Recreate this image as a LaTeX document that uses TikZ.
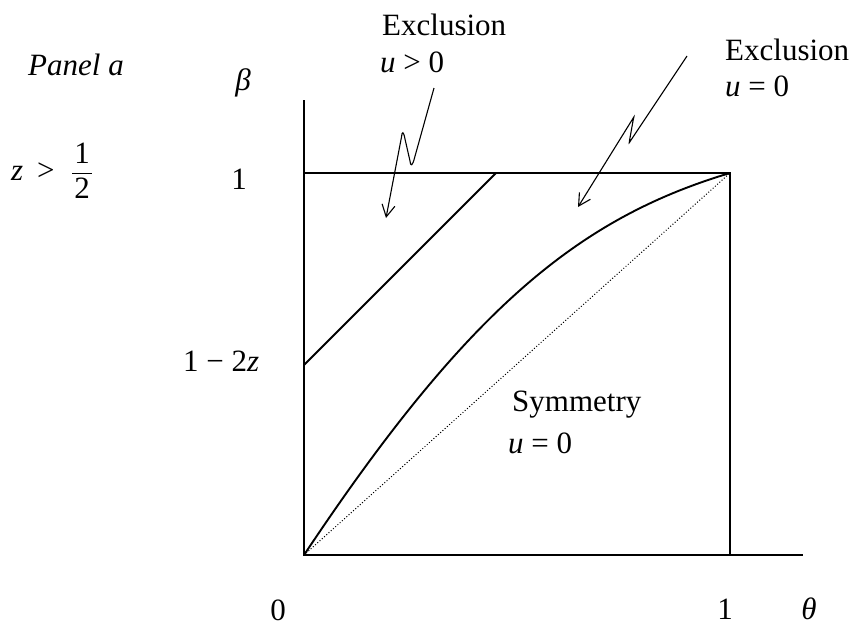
\documentclass[tikz,border=0pt]{standalone}
\usepackage{fontspec}
\setmainfont{Liberation Serif}
\usetikzlibrary{arrows.meta}
\tikzset{
  lbl/.style={inner sep=0pt, anchor=base west, font=\fontsize{31}{37}\selectfont},
  lblc/.style={inner sep=0pt, anchor=base, font=\fontsize{31}{37}\selectfont},
  axisline/.style={line width=1.6pt},
  curveline/.style={line width=1.9pt},
  squiggle/.style={line width=1.1pt, -{Straight Barb[length=12pt,width=13pt,line width=1.1pt]}},
}
\begin{document}
\begin{tikzpicture}[x=1pt,y=-1pt]
\useasboundingbox (0,0) rectangle (857,627);
% coordinates
\coordinate (O) at (304,555);
\coordinate (Ytop) at (304,100);
\coordinate (Xend) at (803,555);
\coordinate (TL) at (304,173);
\coordinate (TR) at (730,173);
\coordinate (BR) at (730,555);
\coordinate (P1) at (304,365);
\coordinate (P2) at (496,173);
% axes and box
\draw[axisline] (Ytop) -- (O) -- (Xend);
\draw[axisline] (TL) -- (TR) -- (BR);
% parallel line
\draw[curveline] (P1) -- (P2);
% curve
\draw[curveline] (O) .. controls (469,307) and (580,218) .. (TR);
% dotted diagonal
\draw[line width=1pt, dash pattern=on 1pt off 2pt] (O) -- (TR);
% squiggle arrows
\coordinate (A1s) at (434,88);
\coordinate (A1t) at (386,218);
\draw[squiggle] (A1s) -- (414.5,158) .. controls (412.5,166) and (410.5,167) .. (410,161)
  -- (405,139) .. controls (403.5,131) and (402,131) .. (401.5,137) -- (A1t);
\coordinate (A2s) at (687,56);
\coordinate (A2t) at (578,207);
\draw[squiggle] (A2s) -- (631,140) .. controls (628.8,143.6) and (629,143.8) .. (629.8,139)
  -- (633,121) .. controls (634,116) and (634.6,115.7) .. (632,120) -- (A2t);
% labels
\node[lbl] (ex1) at (382,35) {Exclusion};
\node[lbl] (ex1u) at (380,72) {\textit{u} > 0};
\node[lbl] (ex2) at (725,60) {Exclusion};
\node[lbl] (ex2u) at (725,96) {\textit{u} = 0};
\node[lbl] (sym) at (512,411) {Symmetry};
\node[lbl] (symu) at (508,453) {\textit{u} = 0};
\node[lbl] (panel) at (28,75) {\textit{Panel a}};
\node[lblc] (beta) at (243,90) {\textit{β}};
\node[lblc] (one) at (239,189) {1};
\node[lbl] (omz) at (183,371) {1 − 2\textit{z}};
\node[lblc] (zero) at (278,620) {0};
\node[lblc] (onex) at (725,619) {1};
\node[lblc] (theta) at (809,619) {\textit{θ}};
% z > 1/2
\node[lbl] (zz) at (11,180) {\textit{z}};
\node[lbl] (gt) at (37,180) {>};
\node[lblc] (fnum) at (82,163) {1};
\node[lblc] (fden) at (82,198) {2};
\coordinate (fb1) at (72,173);
\coordinate (fb2) at (92,173);
\draw[line width=1pt] (fb1) -- (fb2);
\end{tikzpicture}
\end{document}
